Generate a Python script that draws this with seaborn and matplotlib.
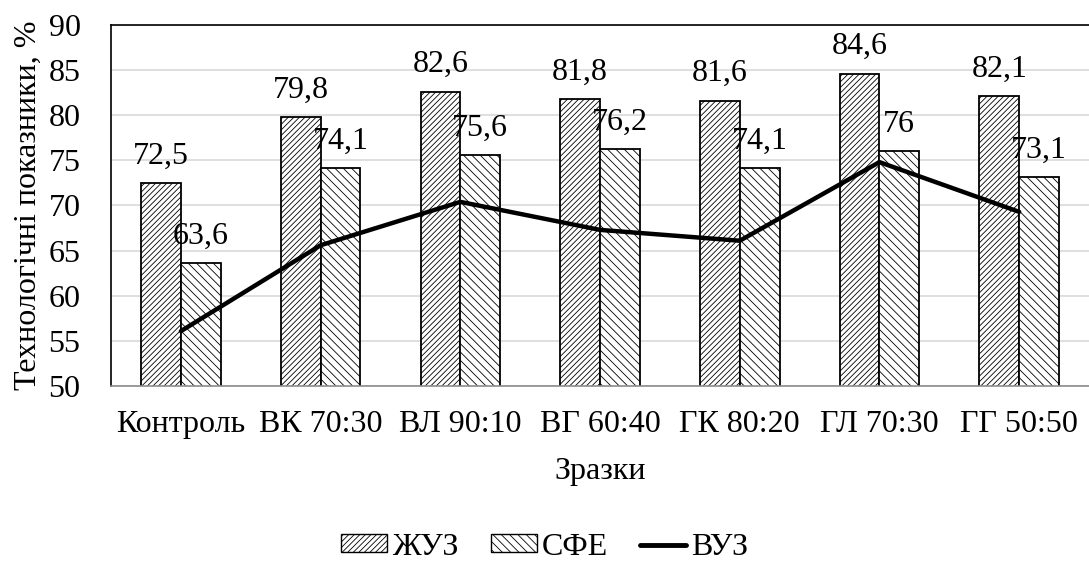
import matplotlib
matplotlib.use("Agg")
import matplotlib.pyplot as plt
import matplotlib.patches as mpatches
from matplotlib.lines import Line2D
import seaborn as sns
import pandas as pd
import numpy as np

samples = ["Контроль", "ВК 70:30", "ВЛ 90:10", "ВГ 60:40", "ГК 80:20", "ГЛ 70:30", "ГГ 50:50"]
zhuz = [72.5, 79.8, 82.6, 81.8, 81.6, 84.6, 82.1]
sfe = [63.6, 74.1, 75.6, 76.2, 74.1, 76.0, 73.1]
vuz = [56.1, 65.6, 70.4, 67.3, 66.1, 74.8, 69.3]
series_names = ["ЖУЗ", "СФЕ", "ВУЗ"]
label_text_zhuz = ["72,5", "79,8", "82,6", "81,8", "81,6", "84,6", "82,1"]
label_text_sfe = ["63,6", "74,1", "75,6", "76,2", "74,1", "76", "73,1"]

sns.set_theme(style="white")
plt.rcParams["font.family"] = ["Liberation Serif", "DejaVu Serif"]
plt.rcParams["hatch.linewidth"] = 0.6
plt.rcParams["hatch.color"] = "#222222"
for key in ["text.color", "axes.labelcolor", "xtick.color", "ytick.color"]:
    plt.rcParams[key] = "black"

FS = 23

df = pd.DataFrame({
    "Зразок": samples * 2,
    "Значення": zhuz + sfe,
    "Показник": [series_names[0]] * len(samples) + [series_names[1]] * len(samples),
})

fig = plt.figure(figsize=(10.89, 5.63), dpi=100)
ax = fig.add_axes([0.102, 0.314, 0.898, 0.642])

sns.barplot(data=df, x="Зразок", y="Значення", hue="Показник", order=samples,
            hue_order=series_names[:2], palette=["white", "white"], width=0.57,
            edgecolor="black", linewidth=1.3, legend=False, ax=ax)

hatches = ["//////", "\\\\\\\\"]
for cont, h in zip(ax.containers, hatches):
    for bar in cont:
        bar.set_hatch(h)
        bar.set_edgecolor("black")

for cont, texts in zip(ax.containers, [label_text_zhuz, label_text_sfe]):
    ax.bar_label(cont, labels=texts, padding=9, fontsize=FS)

sns.lineplot(x=np.arange(len(samples)), y=vuz, color="black", linewidth=3.2, ax=ax)

ax.set_ylim(50, 90)
ax.set_xlim(-0.5, len(samples) - 0.5)
ax.set_yticks(range(50, 91, 5))
ax.yaxis.grid(True, color="#d9d9d9", linewidth=1.2)
ax.set_axisbelow(True)
ax.tick_params(axis="both", labelsize=FS, length=0)
ax.tick_params(axis="x", pad=17)
ax.tick_params(axis="y", pad=22)

ax.spines["right"].set_visible(False)
ax.spines["top"].set_color("black")
ax.spines["left"].set_color("black")
ax.spines["bottom"].set_color("#8c8c8c")
for s in ["top", "left", "bottom"]:
    ax.spines[s].set_linewidth(1.2)

ax.set_xlabel("Зразки", fontsize=FS, labelpad=13)
ax.set_ylabel("Технологічні показники, %", fontsize=FS, labelpad=4)

handles = [
    mpatches.Patch(facecolor="white", edgecolor="black", hatch=hatches[0], linewidth=1),
    mpatches.Patch(facecolor="white", edgecolor="black", hatch=hatches[1], linewidth=1),
    Line2D([0], [0], color="black", linewidth=3.5),
]
fig.legend(handles, series_names, loc="center", bbox_to_anchor=(0.5, 0.028), ncol=3,
           frameon=False, fontsize=FS, handlelength=1.45, handleheight=0.5,
           handletextpad=0.15, columnspacing=1.0, borderpad=0, borderaxespad=0)

fig.savefig("out.png", dpi=100)
